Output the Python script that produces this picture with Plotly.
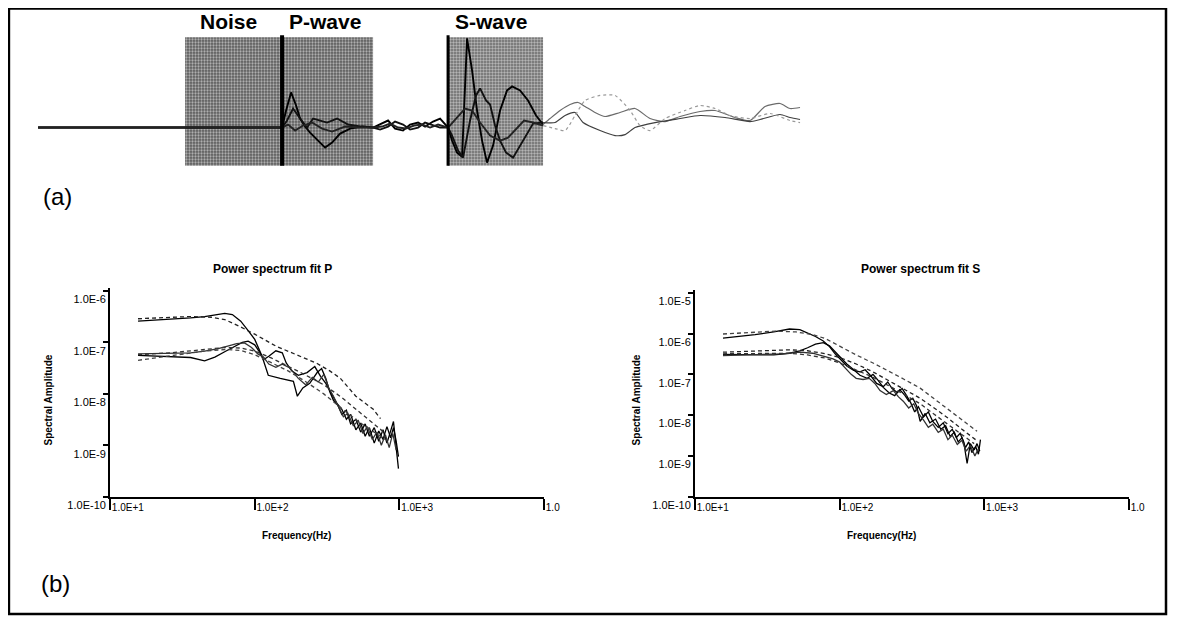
import numpy as np
import plotly.graph_objects as go

# Target picture is 1181x620. The page adds an 8 px body margin and the capture is
# rescaled, so reference pixel positions are mapped through KX/KY below.
REF_W, REF_H, BODY = 1181, 620, 8
W, H = REF_W + BODY, REF_H + BODY
KX, KY = REF_W / (REF_W + 2 * BODY), REF_H / (REF_H + 2 * BODY)

# ---------------- Panel (a): three-component seismogram ----------------
z_time = [0.00, 1.47, 2.44, 2.48, 2.53, 2.58, 2.62, 2.67, 2.72, 2.80, 2.87, 2.94, 3.02, 3.12, 3.24, 3.35,
          3.42, 3.50, 3.57, 3.65, 3.72, 3.80, 3.87, 3.95, 4.02, 4.10, 4.14, 4.19, 4.24, 4.26, 4.29, 4.34,
          4.39, 4.44, 4.49, 4.55, 4.62, 4.69, 4.74, 4.82, 4.90, 4.98, 5.05,
          5.12, 5.22, 5.32, 5.40, 5.47, 5.57, 5.67, 5.82, 5.97, 6.12, 6.27, 6.42, 6.62, 6.77, 6.97, 7.12,
          7.27, 7.42, 7.52, 7.62]
z_amp = [0.0, 0.0, 0.0, 0.425, 0.875, 0.55, 0.225, 0.025, -0.125, -0.325, -0.5, -0.375, -0.15, -0.025, 0.025, 0.0,
         0.075, 0.175, -0.025, -0.075, 0.075, 0.125, 0.025, 0.15, 0.225, 0.0, -0.325, -0.625, -0.725, 0.425, 2.225, 1.425,
         0.425, -0.325, -0.875, -0.45, 0.425, 0.925, 1.025, 0.925, 0.675, 0.3, 0.075,
         0.225, 0.425, 0.575, 0.625, 0.525, 0.375, 0.275, 0.375, 0.475, 0.225, 0.15, 0.275, 0.4, 0.425, 0.25, 0.175,
         0.525, 0.6, 0.475, 0.5]

n_time = [0.00, 1.47, 2.44, 2.49, 2.55, 2.62, 2.69, 2.75, 2.82, 2.89, 2.99, 3.10, 3.22, 3.35,
          3.42, 3.50, 3.57, 3.65, 3.72, 3.80, 3.87, 3.95, 4.02, 4.10, 4.14, 4.20, 4.25, 4.32, 4.38,
          4.42, 4.48, 4.52, 4.57, 4.62, 4.68, 4.75, 4.82, 4.89, 4.95, 5.05,
          5.17, 5.27, 5.37, 5.45, 5.62, 5.77, 5.87, 5.97, 6.17, 6.42, 6.62, 6.87, 7.12, 7.22, 7.42, 7.52, 7.62]
n_amp = [0.0, 0.0, 0.0, 0.175, 0.475, 0.225, 0.0, 0.225, 0.175, 0.125, 0.225, 0.075, 0.025, 0.0,
         -0.05, 0.025, 0.15, 0.075, -0.05, 0.0, 0.125, 0.05, 0.0, 0.0, -0.2, -0.575, -0.75, 0.175, 0.8,
         0.975, 0.675, 0.575, 0.05, -0.325, -0.625, -0.75, -0.45, -0.125, 0.1, 0.125,
         0.125, 0.3, 0.375, 0.125, -0.075, -0.2, -0.175, 0.0, 0.125, 0.225, 0.3, 0.25, 0.15, 0.2, 0.325, 0.25, 0.2]

e_time = [0.00, 1.47, 2.44, 2.50, 2.57, 2.65, 2.74, 2.84, 2.94, 3.07, 3.22, 3.35,
          3.44, 3.52, 3.60, 3.68, 3.76, 3.84, 3.92, 4.00, 4.10, 4.18, 4.27, 4.34, 4.42, 4.52, 4.62,
          4.70, 4.78, 4.86, 4.95, 5.05,
          5.17, 5.27, 5.37, 5.47, 5.62, 5.77, 5.92, 6.02, 6.12, 6.27, 6.47, 6.62, 6.77, 6.92, 7.12, 7.32, 7.52, 7.62]
e_amp = [0.0, 0.0, 0.0, 0.075, -0.075, 0.05, 0.125, -0.025, -0.1, 0.025, 0.0, 0.0,
         0.025, 0.1, 0.0, -0.025, 0.05, 0.075, 0.0, 0.075, 0.0, 0.225, 0.475, 0.425, 0.125, -0.2, -0.325,
         -0.25, -0.025, 0.175, 0.125, 0.05,
         -0.025, -0.075, 0.3, 0.675, 0.8, 0.8, 0.425, 0.05, -0.075, 0.225, 0.425, 0.55, 0.475, 0.3, 0.225, 0.35, 0.175, 0.125]

window_labels = ["Noise", "P-wave", "S-wave"]
noise_window = [1.47, 2.44]
p_window = [2.44, 3.35]
s_window = [4.10, 5.05]
p_pick = 2.44
s_pick = 4.10
window_amp = [-0.95, 2.25]

# ---------------- Panel (b): power spectra (P) ----------------
obs_p1_f = [15.6, 20, 26, 36, 45, 53, 62, 70, 80, 90, 100, 112, 124, 150, 185, 197, 215, 240, 270, 290,
            310, 330, 350, 375, 400, 430, 460, 500, 540, 580, 620, 670, 720, 770, 820, 870, 910, 950, 985]
obs_p1_a = [2.6e-7, 2.7e-7, 2.8e-7, 3.0e-7, 3.2e-7, 3.45e-7, 3.7e-7, 3.5e-7, 2.6e-7, 1.7e-7, 1.15e-7, 5.5e-8,
            2.3e-8, 2.0e-8, 1.75e-8, 9e-9, 1.3e-8, 1.6e-8, 2.6e-8, 3.1e-8, 2.0e-8, 1.1e-8, 7.5e-9, 6.0e-9,
            4.0e-9, 4.8e-9, 2.6e-9, 3.2e-9, 1.8e-9, 2.6e-9, 1.5e-9, 2.2e-9, 1.2e-9, 2.0e-9, 1.1e-9, 1.9e-9,
            2.9e-9, 9e-10, 3.5e-10]
obs_p2_f = [15.6, 20, 26, 36, 45, 53, 62, 73, 82, 90, 100, 108, 115, 125, 140, 155, 165, 180, 200, 230,
            260, 285, 310, 340, 370, 400, 430, 460, 500, 540, 580, 620, 670, 720, 770, 820, 870, 910, 950, 985]
obs_p2_a = [5.6e-8, 5.5e-8, 5.4e-8, 5.1e-8, 4.4e-8, 5.2e-8, 6.6e-8, 8.6e-8, 1.0e-7, 1.06e-7, 9.0e-8, 6.5e-8,
            4.6e-8, 5.4e-8, 6.9e-8, 6.3e-8, 4.0e-8, 2.8e-8, 2.3e-8, 2.6e-8, 3.4e-8, 2.2e-8, 1.6e-8, 1.0e-8,
            6.5e-9, 5.0e-9, 3.2e-9, 4.0e-9, 2.0e-9, 2.7e-9, 1.5e-9, 2.2e-9, 1.1e-9, 1.9e-9, 1.3e-9, 2.3e-9,
            1.4e-9, 2.2e-9, 1.2e-9, 6e-10]
obs_p3_f = [15.6, 26, 36, 45, 55, 65, 75, 85, 95, 105, 115, 125, 140, 155, 175, 200, 225, 250, 275, 300,
            325, 350, 380, 410, 440, 480, 520, 560, 600, 650, 700, 750, 800, 850, 900, 950]
obs_p3_a = [6.0e-8, 6.1e-8, 6.3e-8, 6.8e-8, 7.5e-8, 8.5e-8, 9.5e-8, 9.8e-8, 8.0e-8, 6.0e-8, 5.2e-8, 3.8e-8,
            3.3e-8, 3.8e-8, 3.2e-8, 2.0e-8, 1.5e-8, 2.1e-8, 1.7e-8, 2.4e-8, 1.3e-8, 9e-9, 5.5e-9, 3.6e-9,
            4.2e-9, 2.4e-9, 3.0e-9, 1.7e-9, 2.3e-9, 1.3e-9, 1.8e-9, 1.0e-9, 1.6e-9, 9e-10, 1.7e-9, 8e-10]

fit_p1_f = [15.6, 26, 36, 50, 62, 80, 100, 140, 200, 270, 330, 391, 500, 660, 740]
fit_p1_a = [2.9e-7, 3.1e-7, 3.2e-7, 3.1e-7, 2.8e-7, 2.0e-7, 1.45e-7, 8.5e-8, 5.5e-8, 3.9e-8, 2.8e-8,
            2.0e-8, 9e-9, 5e-9, 3.3e-9]
fit_p2_f = [15.6, 26, 45, 62, 80, 100, 130, 170, 220, 300, 400, 520, 650, 800]
fit_p2_a = [4.5e-8, 5.5e-8, 6.8e-8, 7.3e-8, 7.0e-8, 5.8e-8, 4.0e-8, 2.8e-8, 1.8e-8, 1.0e-8, 5.2e-9,
            2.9e-9, 1.9e-9, 1.3e-9]
fit_p3_f = [15.6, 26, 45, 62, 80, 100, 130, 170, 220, 300, 400, 520, 650, 800]
fit_p3_a = [5.8e-8, 6.3e-8, 7.3e-8, 8.0e-8, 7.8e-8, 6.8e-8, 5.0e-8, 3.5e-8, 2.4e-8, 1.5e-8, 8.5e-9,
            4.6e-9, 2.8e-9, 1.7e-9]

# ---------------- Panel (b): power spectra (S) ----------------
obs_s1_f = [15.6, 20, 26, 35, 45, 53, 60, 68, 77, 85, 93, 102, 112, 125, 138, 150, 165, 180, 200, 215,
            230, 250, 270, 290, 310, 330, 350, 380, 410, 440, 480, 520, 560, 600, 640, 680, 720, 760, 800,
            850, 890, 930]
obs_s1_a = [7.8e-7, 8.5e-7, 9.5e-7, 1.1e-6, 1.3e-6, 1.25e-6, 1.05e-6, 8.5e-7, 6.6e-7, 4.8e-7, 3.2e-7,
            2.2e-7, 1.6e-7, 1.25e-7, 1.15e-7, 1.3e-7, 9e-8, 6e-8, 5e-8, 6.5e-8, 4.5e-8, 3.6e-8, 4.5e-8,
            3.0e-8, 2.0e-8, 1.2e-8, 1.6e-8, 9e-9, 1.2e-8, 7e-9, 5e-9, 6.5e-9, 3.5e-9, 4.5e-9, 2.8e-9,
            3.6e-9, 2.2e-9, 6.5e-10, 2.0e-9, 1.4e-9, 2.0e-9, 1.3e-9]
obs_s2_f = [15.6, 26, 35, 45, 53, 60, 68, 77, 85, 93, 102, 112, 125, 138, 155, 170, 185, 200, 220, 240,
            260, 280, 300, 320, 340, 360, 390, 420, 460, 500, 540, 580, 620, 660, 700, 740, 780, 820, 870,
            910, 940]
obs_s2_a = [3.1e-7, 3.1e-7, 3.0e-7, 3.3e-7, 3.8e-7, 4.5e-7, 5.5e-7, 6.0e-7, 5.0e-7, 3.6e-7, 2.6e-7,
            1.8e-7, 1.3e-7, 9.5e-8, 8e-8, 1.0e-7, 7e-8, 4.8e-8, 3.5e-8, 3.0e-8, 4.2e-8, 3.2e-8, 2.2e-8,
            2.6e-8, 1.7e-8, 7e-9, 1.1e-8, 6.5e-9, 8e-9, 4.5e-9, 5.5e-9, 3.0e-9, 3.8e-9, 2.2e-9, 2.8e-9,
            1.6e-9, 2.2e-9, 1.2e-9, 1.7e-9, 1.1e-9, 2.5e-9]
obs_s3_f = [15.6, 26, 40, 53, 65, 77, 90, 100, 110, 120, 130, 145, 160, 175, 190, 210, 235, 255, 275, 300,
            325, 350, 380, 410, 440, 480, 520, 560, 600, 650, 700, 750, 800, 860, 910]
obs_s3_a = [2.9e-7, 3.0e-7, 3.2e-7, 3.5e-7, 3.3e-7, 2.8e-7, 2.4e-7, 2.0e-7, 1.4e-7, 1.0e-7, 8e-8, 7.5e-8,
            8e-8, 6e-8, 4e-8, 3.2e-8, 4.0e-8, 2.8e-8, 2.2e-8, 1.5e-8, 1.9e-8, 1.1e-8, 7.5e-9, 5e-9, 6e-9,
            3.8e-9, 4.5e-9, 2.5e-9, 3.2e-9, 1.9e-9, 2.4e-9, 1.3e-9, 1.8e-9, 1.0e-9, 1.5e-9]

fit_s1_f = [15.6, 26, 36, 50, 65, 80, 100, 130, 170, 220, 280, 360, 450, 560, 700, 890]
fit_s1_a = [9.8e-7, 1.08e-6, 1.15e-6, 1.1e-6, 9.5e-7, 7.5e-7, 4.9e-7, 3.0e-7, 1.9e-7, 1.2e-7, 7.5e-8,
            4.6e-8, 2.5e-8, 1.4e-8, 7.4e-9, 4e-9]
fit_s2_f = [15.6, 30, 45, 60, 80, 100, 130, 170, 220, 280, 360, 450, 560, 700, 870]
fit_s2_a = [3.5e-7, 3.8e-7, 4.0e-7, 3.8e-7, 3.2e-7, 2.6e-7, 1.8e-7, 1.15e-7, 7e-8, 4.3e-8, 2.6e-8,
            1.5e-8, 8.5e-9, 4.5e-9, 2.5e-9]
fit_s3_f = [15.6, 30, 45, 60, 80, 100, 130, 170, 220, 280, 360, 450, 560, 700, 850]
fit_s3_a = [3.2e-7, 3.3e-7, 3.3e-7, 3.0e-7, 2.5e-7, 1.9e-7, 1.3e-7, 8.5e-8, 5.2e-8, 3.2e-8, 1.9e-8,
            1.05e-8, 6e-9, 3.4e-9, 2.0e-9]

freq_tickvals = [10, 100, 1000, 10000]
freq_ticktext = ["1.0E+1", "1.0E+2", "1.0E+3", "1.0"]
amp_p_tickvals = [1e-10, 1e-9, 1e-8, 1e-7, 1e-6]
amp_p_ticktext = ["1.0E-10", "1.0E-9", "1.0E-8", "1.0E-7", "1.0E-6"]
amp_s_tickvals = [1e-10, 1e-9, 1e-8, 1e-7, 1e-6, 1e-5]
amp_s_ticktext = ["1.0E-10", "1.0E-9", "1.0E-8", "1.0E-7", "1.0E-6", "1.0E-5"]

# ------------------------------------------------------------------
FONT = "Liberation Sans, Arial, sans-serif"
NARROW = "Liberation Sans Narrow, Arial Narrow, Liberation Sans, Arial, sans-serif"
fig = go.Figure()


def fx(x):
    """reference pixel x -> figure pixel"""
    return x / KX - BODY


def fy(y):
    """reference pixel y -> figure pixel"""
    return y / KY - BODY


def px(x):
    return min(max(fx(x) / W, 0.0008), 0.9992)


def py(y):
    return min(max(1 - fy(y) / H, 0.0008), 0.9992)


def box(win, bg="#5c5c5c", sol=0.45):
    x0, x1 = win
    y0, y1 = window_amp
    fig.add_trace(go.Scatter(
        x=[x0, x1, x1, x0, x0], y=[y0, y0, y1, y1, y0], xaxis="x3", yaxis="y3",
        mode="lines", line=dict(width=0), fill="toself", fillcolor=bg,
        fillpattern=dict(shape=".", bgcolor=bg, fgcolor="#ffffff", size=3, solidity=sol),
        hoverinfo="skip", showlegend=False))


box(noise_window)
box(p_window)
box(s_window, "#6a6a6a", 0.5)

coda_start = s_window[1]
seis = [(z_time, z_amp, "#000000", "#6a6a6a", "solid"),
        (n_time, n_amp, "#111111", "#404040", "solid"),
        (e_time, e_amp, "#222222", "#9a9a9a", "dot")]
for t, a, c_main, c_coda, d_coda in seis:
    t = np.array(t)
    a = np.array(a)
    m1 = t <= coda_start
    m2 = t >= coda_start
    fig.add_trace(go.Scatter(x=t[m1], y=a[m1], xaxis="x3", yaxis="y3", mode="lines",
                             line=dict(color=c_main, width=1.9), showlegend=False, hoverinfo="skip"))
    fig.add_trace(go.Scatter(x=t[m2], y=a[m2], xaxis="x3", yaxis="y3", mode="lines",
                             line=dict(color=c_coda, width=1.2, dash=d_coda, shape="spline", smoothing=0.6),
                             showlegend=False, hoverinfo="skip"))

# picks
fig.add_trace(go.Scatter(x=[p_pick, p_pick], y=[window_amp[0], window_amp[1] + 0.05], xaxis="x3", yaxis="y3",
                         mode="lines", line=dict(color="black", width=4), showlegend=False, hoverinfo="skip"))
fig.add_trace(go.Scatter(x=[s_pick, s_pick], y=[window_amp[0], window_amp[1] + 0.05], xaxis="x3", yaxis="y3",
                         mode="lines", line=dict(color="black", width=3), showlegend=False, hoverinfo="skip"))

# spectra
spec_p = [(obs_p1_f, obs_p1_a, "solid", "#000000"), (obs_p2_f, obs_p2_a, "solid", "#000000"),
          (obs_p3_f, obs_p3_a, "solid", "#333333"),
          (fit_p1_f, fit_p1_a, "dash", "#222222"), (fit_p2_f, fit_p2_a, "dash", "#444444"),
          (fit_p3_f, fit_p3_a, "dash", "#333333")]
spec_s = [(obs_s1_f, obs_s1_a, "solid", "#000000"), (obs_s2_f, obs_s2_a, "solid", "#000000"),
          (obs_s3_f, obs_s3_a, "solid", "#333333"),
          (fit_s1_f, fit_s1_a, "dash", "#444444"), (fit_s2_f, fit_s2_a, "dash", "#222222"),
          (fit_s3_f, fit_s3_a, "dash", "#333333")]
for f, a, d, c in spec_p:
    fig.add_trace(go.Scatter(x=f, y=a, xaxis="x", yaxis="y", mode="lines",
                             line=dict(color=c, width=1.3, dash="4px,3px" if d == "dash" else "solid"),
                             showlegend=False))
for f, a, d, c in spec_s:
    fig.add_trace(go.Scatter(x=f, y=a, xaxis="x2", yaxis="y2", mode="lines",
                             line=dict(color=c, width=1.3, dash="4px,3px" if d == "dash" else "solid"),
                             showlegend=False))

axis_common = dict(showline=True, linecolor="black", linewidth=2, showgrid=False, zeroline=False,
                   ticks="outside", tickcolor="black", tickwidth=1.5)

# top panel: time t = (ref_x - 38)/100 s ; amplitude a = (127 - ref_y)/40
ref_left, ref_right = BODY * KX, (W + BODY) * KX
ref_top, ref_bot = BODY * KY, 230
t_left, t_right = (ref_left - 38) / 100, (ref_right - 38) / 100
a_top, a_bot = (127 - ref_top) / 40, (127 - ref_bot) / 40

fig.update_layout(
    width=W, height=H, margin=dict(l=0, r=0, t=0, b=0), paper_bgcolor="white", plot_bgcolor="white",
    font=dict(family=FONT, color="black"),
    xaxis=dict(domain=[px(110), px(544)], type="log", range=[1, 4], anchor="y",
               tickmode="array", tickvals=freq_tickvals, ticktext=freq_ticktext, ticklen=11,
               ticklabelposition="outside right", tickfont=dict(size=10, family=NARROW), **axis_common),
    yaxis=dict(domain=[py(495), py(287)], type="log", range=[-10, -5.94], anchor="x",
               tickmode="array", tickvals=amp_p_tickvals, ticktext=amp_p_ticktext, ticklen=5,
               ticklabelposition="outside bottom", tickfont=dict(size=11, family=NARROW), **axis_common),
    xaxis2=dict(domain=[px(695), px(1129)], type="log", range=[1, 4], anchor="y2",
                tickmode="array", tickvals=freq_tickvals, ticktext=freq_ticktext, ticklen=11,
                ticklabelposition="outside right", tickfont=dict(size=10, family=NARROW), **axis_common),
    yaxis2=dict(domain=[py(495), py(289)], type="log", range=[-10, -4.93], anchor="x2",
                tickmode="array", tickvals=amp_s_tickvals, ticktext=amp_s_ticktext, ticklen=5,
                ticklabelposition="outside bottom", tickfont=dict(size=11, family=NARROW), **axis_common),
    xaxis3=dict(domain=[0, 1], range=[t_left, t_right], visible=False, fixedrange=True),
    yaxis3=dict(domain=[py(ref_bot), 1], range=[a_bot, a_top], visible=False, fixedrange=True, anchor="x3"),
)

ann = []
ann.append(dict(x=px(228), y=py(21), text="<b>" + window_labels[0] + "</b>", font=dict(size=21)))
ann.append(dict(x=px(325), y=py(21), text="<b>" + window_labels[1] + "</b>", font=dict(size=21)))
ann.append(dict(x=px(491), y=py(21), text="<b>" + window_labels[2] + "</b>", font=dict(size=21)))
ann.append(dict(x=px(57), y=py(196), text="(a)", font=dict(size=24)))
ann.append(dict(x=px(55), y=py(582), text="(b)", font=dict(size=24)))
ann.append(dict(x=px(272), y=py(268), text="<b>Power spectrum fit P</b>", font=dict(size=12)))
ann.append(dict(x=px(920), y=py(268), text="<b>Power spectrum fit S</b>", font=dict(size=12)))
ann.append(dict(x=px(48), y=py(399), text="<b>Spectral Amplitude</b>", textangle=-90,
                font=dict(size=10, family=NARROW)))
ann.append(dict(x=px(636), y=py(399), text="<b>Spectral Amplitude</b>", textangle=-90,
                font=dict(size=10, family=NARROW)))
ann.append(dict(x=px(296), y=py(534), text="<b>Frequency(Hz)</b>", font=dict(size=10, family=NARROW)))
ann.append(dict(x=px(881), y=py(534), text="<b>Frequency(Hz)</b>", font=dict(size=10, family=NARROW)))
for a in ann:
    a.update(xref="paper", yref="paper", showarrow=False, xanchor="center", yanchor="middle")
fig.update_layout(annotations=ann)

fig.add_shape(type="rect", xref="paper", yref="paper", x0=px(7), x1=px(1166), y0=py(612), y1=py(4),
              line=dict(color="black", width=2.5), fillcolor="rgba(0,0,0,0)")

fig.write_html("out.html")
